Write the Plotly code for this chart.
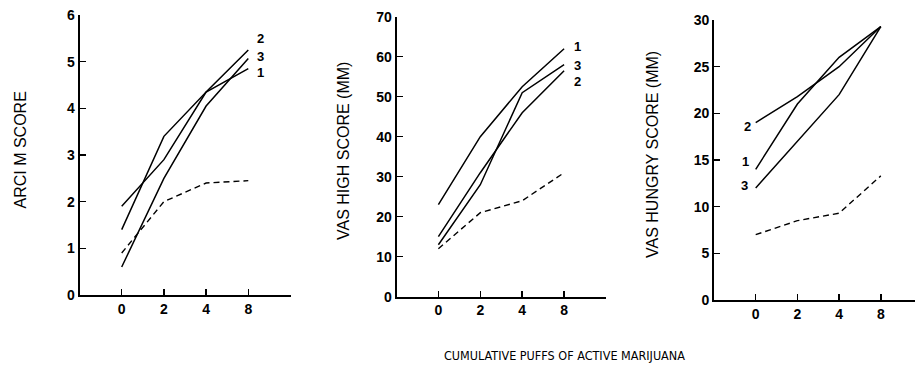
import plotly.graph_objects as go

W, H = 915, 378

puffs = ["0", "2", "4", "8"]

arci_s1 = [1.4, 3.4, 4.35, 4.85]
arci_s2 = [1.9, 2.9, 4.35, 5.25]
arci_s3 = [0.6, 2.5, 4.05, 5.07]
arci_placebo = [0.9, 2.0, 2.4, 2.45]

high_s1 = [23, 40, 52.5, 62]
high_s2 = [15, 31, 46, 56.5]
high_s3 = [13, 28, 51, 58]
high_placebo = [12, 21, 24, 31]

hungry_s1 = [14, 21, 26, 29.3]
hungry_s2 = [19, 21.8, 25, 29.3]
hungry_s3 = [12, 17, 22, 29.3]
hungry_placebo = [7, 8.5, 9.3, 13.3]

y_titles = ["ARCI M SCORE", "VAS HIGH SCORE (MM)", "VAS HUNGRY SCORE (MM)"]
x_title = "CUMULATIVE PUFFS OF ACTIVE MARIJUANA"

x_idx = list(range(len(puffs)))

def px(x):
    return x / W

def py(y):
    return 1 - y / H

panels = [
    dict(series=[arci_s1, arci_s2, arci_s3], placebo=arci_placebo,
         xdom=[79.5, 290.5], xrange=[-1, 4], ydom=[295, 15], yrange=[0, 6], dtick=1,
         labels=[("2", 3.28, 5.49), ("3", 3.28, 5.10), ("1", 3.28, 4.76)],
         ytitle=(20, 150.5), endtick=True),
    dict(series=[high_s1, high_s2, high_s3], placebo=high_placebo,
         xdom=[396.5, 606], xrange=[-1, 4], ydom=[296.7, 16.7], yrange=[0, 70], dtick=10,
         labels=[("1", 3.33, 62.5), ("3", 3.33, 57.9), ("2", 3.33, 53.75)],
         ytitle=(343, 151), endtick=True),
    dict(series=[hungry_s1, hungry_s2, hungry_s3], placebo=hungry_placebo,
         xdom=[714, 915], xrange=[-1, 3.82], ydom=[300, 20], yrange=[0, 30], dtick=5,
         labels=[("2", -0.2, 18.57), ("1", -0.24, 14.82), ("3", -0.27, 12.32)],
         ytitle=(653, 155), endtick=False),
]

fig = go.Figure()
annotations = []
layout = {}
tickfont = dict(family="Liberation Sans, Arial, sans-serif", size=14, color="black", weight="bold")

for i, p in enumerate(panels):
    n = "" if i == 0 else str(i + 1)
    xa, ya = "x" + n, "y" + n
    for s in p["series"]:
        fig.add_trace(go.Scatter(x=x_idx, y=s, mode="lines", xaxis=xa, yaxis=ya,
                                 line=dict(color="black", width=1.5), showlegend=False,
                                 hoverinfo="skip"))
    fig.add_trace(go.Scatter(x=x_idx, y=p["placebo"], mode="lines", xaxis=xa, yaxis=ya,
                             line=dict(color="black", width=1.4, dash="6px,4px"),
                             showlegend=False, hoverinfo="skip"))
    tv = x_idx + ([len(puffs)] if p["endtick"] else [])
    tt = puffs + ([""] if p["endtick"] else [])
    layout["xaxis" + n] = dict(
        domain=[px(p["xdom"][0]), px(p["xdom"][1])], range=p["xrange"], anchor=ya,
        tickvals=tv, ticktext=tt, ticks="inside", ticklen=6, tickwidth=1.5, tickcolor="black",
        showline=True, linecolor="black", linewidth=1.8, showgrid=False, zeroline=False,
        tickfont=tickfont, fixedrange=True, automargin=False)
    layout["yaxis" + n] = dict(
        domain=[py(p["ydom"][0]), py(p["ydom"][1])], range=p["yrange"], anchor=xa,
        dtick=p["dtick"], tick0=0, ticks="inside", ticklen=6, tickwidth=1.5, tickcolor="black",
        showline=True, linecolor="black", linewidth=1.8, showgrid=False, zeroline=False,
        tickfont=tickfont, fixedrange=True, automargin=False)
    for txt, lx, ly in p["labels"]:
        annotations.append(dict(text=txt, x=lx, y=ly, xref=xa, yref=ya, showarrow=False,
                                xanchor="center", yanchor="middle",
                                font=dict(family="Liberation Sans, Arial, sans-serif", size=13,
                                          color="black", weight="bold")))
    tx, ty = p["ytitle"]
    annotations.append(dict(text=y_titles[i], x=px(tx), y=py(ty), xref="paper", yref="paper",
                            showarrow=False, textangle=-90, xanchor="center", yanchor="middle",
                            font=dict(family="Liberation Sans, Arial, sans-serif", size=16,
                                      color="black")))

annotations.append(dict(text=x_title, x=px(564), y=py(355), xref="paper", yref="paper",
                        showarrow=False, xanchor="center", yanchor="middle",
                        font=dict(family="Liberation Sans Narrow, DejaVu Sans Condensed, Arial Narrow, sans-serif",
                                  size=12.5, color="black")))

fig.update_layout(width=W, height=H, margin=dict(l=0, r=0, t=0, b=0, pad=0), autosize=False,
                  paper_bgcolor="white", plot_bgcolor="white",
                  annotations=annotations, **layout)

fig.write_html("out.html", config={"displayModeBar": False, "staticPlot": True},
               post_script="document.body.style.margin='0';")
